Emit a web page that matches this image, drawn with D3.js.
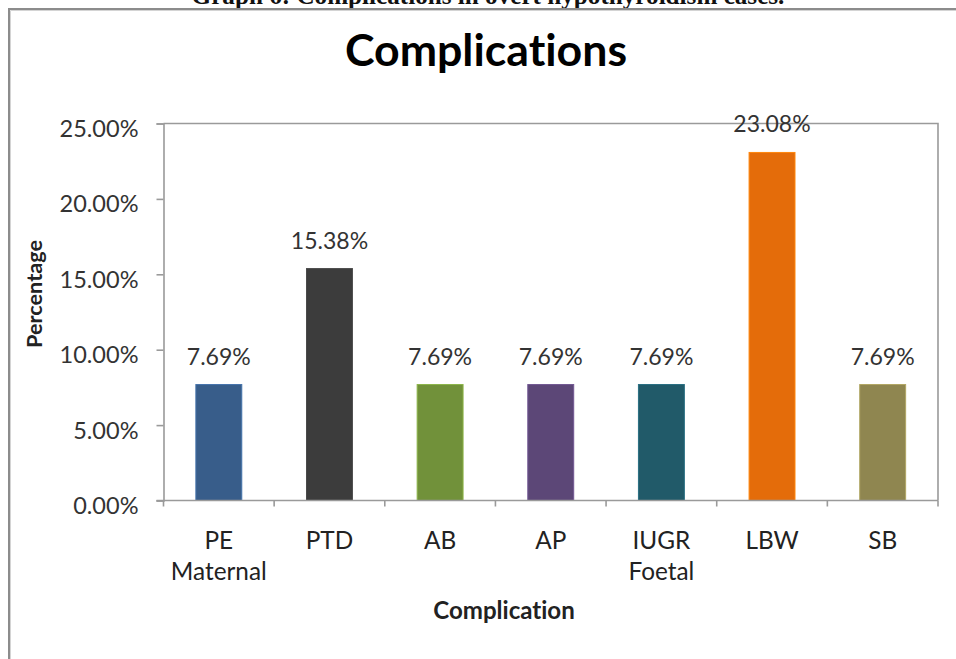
<!DOCTYPE html>
<html>
<head>
<meta charset="utf-8">
<script src="https://cdn.jsdelivr.net/npm/d3@7/dist/d3.min.js"></script>
<style>
  html, body { margin: 0; padding: 0; background: #fff; }
  svg { display: block; }
  text { font-variant-ligatures: none; }
</style>
</head>
<body>
<svg id="chart" width="956" height="659"></svg>
<script>
// Complications chart data
const categories = ["PE", "PTD", "AB", "AP", "IUGR", "LBW", "SB"];
const percentages = [7.69, 15.38, 7.69, 7.69, 7.69, 23.08, 7.69];
const groupLabels = [{ at: "PE", text: "Maternal" }, { at: "IUGR", text: "Foetal" }];
const barColors = ["#385d8a", "#3c3c3c", "#71913a", "#5c4777", "#215a69", "#e46c0a", "#8f8650"];
const yTicks = [0, 5, 10, 15, 20, 25];

const caption = "Graph 6: Complications in overt hypothyroidism cases.";
const chartTitle = "Complications";
const xTitle = "Complication";
const yTitle = "Percentage";

const SANS = "Lato, 'Open Sans', sans-serif";
const SERIF = "'Liberation Serif', 'DejaVu Serif', serif";

// font size that makes a string a given width
const ctx = document.createElement("canvas").getContext("2d");
function fitSize(str, weight, family, width) {
  ctx.font = `${weight} 100px ${family}`;
  return 100 * width / ctx.measureText(str).width;
}

const svg = d3.select("#chart");
const W = 956, H = 659;

const plot = { left: 163.5, right: 938, top: 123.5, bottom: 500.5 };

const x = d3.scaleBand().domain(categories).range([plot.left, plot.right]).paddingInner(0.585).paddingOuter(0.2925);
const xBand = d3.scaleBand().domain(categories).range([plot.left, plot.right]);
const y = d3.scaleLinear().domain([0, 25]).range([plot.bottom, plot.top]);

// caption above the chart frame (runs off the top of the page)
svg.append("text")
  .attr("x", 488).attr("y", 4)
  .attr("text-anchor", "middle")
  .attr("font-family", SERIF).attr("font-weight", "bold")
  .attr("font-size", fitSize(caption, "bold", SERIF, 593))
  .attr("fill", "#111")
  .text(caption);

// outer chart frame
svg.append("path")
  .attr("d", `M9,${H} L9,9 L${W},9`)
  .attr("fill", "none").attr("stroke", "#8c8c8c").attr("stroke-width", 2);
svg.append("path")
  .attr("d", `M10.5,${H} L10.5,10.5 L${W},10.5`)
  .attr("fill", "none").attr("stroke", "#d4d4d4").attr("stroke-width", 1);

// title
svg.append("text")
  .attr("x", 486).attr("y", 66)
  .attr("text-anchor", "middle")
  .attr("font-family", SANS).attr("font-weight", "bold")
  .attr("font-size", fitSize(chartTitle, "bold", SANS, 283))
  .attr("fill", "#000")
  .text(chartTitle);

// plot frame: top and right edges
svg.append("path")
  .attr("d", `M${plot.left},${plot.top} L${plot.right},${plot.top} L${plot.right},${plot.bottom}`)
  .attr("fill", "none").attr("stroke", "#9a9a9a").attr("stroke-width", 1.6);

// bars
svg.append("g").selectAll("rect")
  .data(categories.map((c, i) => ({ c, v: percentages[i], col: barColors[i] })))
  .join("rect")
  .attr("x", d => x(d.c))
  .attr("width", x.bandwidth())
  .attr("y", d => y(d.v))
  .attr("height", d => y(0) - y(d.v))
  .attr("fill", d => d.col)
  .attr("stroke", d => d3.color(d.col).brighter(0.6))
  .attr("stroke-width", 1);

// value labels
const valFont = fitSize("7.69%", "normal", SANS, 64);
svg.append("g").selectAll("text")
  .data(categories.map((c, i) => ({ c, v: percentages[i] })))
  .join("text")
  .attr("x", d => x(d.c) + x.bandwidth() / 2)
  .attr("y", d => y(d.v) - 20)
  .attr("text-anchor", "middle")
  .attr("font-family", SANS).attr("font-size", valFont)
  .attr("fill", "#333")
  .text(d => d.v.toFixed(2) + "%");

// y axis
const tickFont = fitSize("25.00%", "normal", SANS, 79);
const yAxis = svg.append("g")
  .attr("transform", `translate(${plot.left},0)`)
  .call(d3.axisLeft(y).tickValues(yTicks).tickSize(7).tickPadding(18)
    .tickFormat(d => d.toFixed(2) + "%"));
yAxis.select(".domain").attr("stroke", "#9a9a9a").attr("stroke-width", 1.6);
yAxis.selectAll(".tick line").attr("stroke", "#9a9a9a").attr("stroke-width", 1.6);
yAxis.selectAll(".tick text")
  .attr("font-family", SANS).attr("font-size", tickFont)
  .attr("fill", "#333").attr("dy", "0.55em");

// x axis with ticks at band edges
const xAxis = svg.append("g")
  .attr("transform", `translate(0,${plot.bottom})`);
xAxis.append("line")
  .attr("x1", plot.left - 7).attr("x2", plot.right)
  .attr("stroke", "#9a9a9a").attr("stroke-width", 1.6);
xAxis.selectAll("line.edge")
  .data(categories.map(c => xBand(c)).concat([plot.right]))
  .join("line").attr("class", "edge")
  .attr("x1", d => d).attr("x2", d => d)
  .attr("y1", 0).attr("y2", 6)
  .attr("stroke", "#9a9a9a").attr("stroke-width", 1.6);

const catFont = fitSize("Maternal", "normal", SANS, 96);
xAxis.selectAll("text.cat")
  .data(categories)
  .join("text").attr("class", "cat")
  .attr("x", d => xBand(d) + xBand.bandwidth() / 2)
  .attr("y", 48)
  .attr("text-anchor", "middle")
  .attr("font-family", SANS).attr("font-size", catFont)
  .attr("fill", "#222")
  .text(d => d);
xAxis.selectAll("text.grp")
  .data(groupLabels)
  .join("text").attr("class", "grp")
  .attr("x", d => xBand(d.at) + xBand.bandwidth() / 2)
  .attr("y", 79)
  .attr("text-anchor", "middle")
  .attr("font-family", SANS).attr("font-size", catFont)
  .attr("fill", "#222")
  .text(d => d.text);

// axis titles
svg.append("text")
  .attr("x", 504).attr("y", 619)
  .attr("text-anchor", "middle")
  .attr("font-family", SANS).attr("font-weight", "bold")
  .attr("font-size", fitSize(xTitle, "bold", SANS, 142))
  .attr("fill", "#222")
  .text(xTitle);

svg.append("text")
  .attr("transform", "translate(42,294) rotate(-90)")
  .attr("text-anchor", "middle")
  .attr("font-family", SANS).attr("font-weight", "bold")
  .attr("font-size", fitSize(yTitle, "bold", SANS, 108))
  .attr("fill", "#222")
  .text(yTitle);
</script>
</body>
</html>
